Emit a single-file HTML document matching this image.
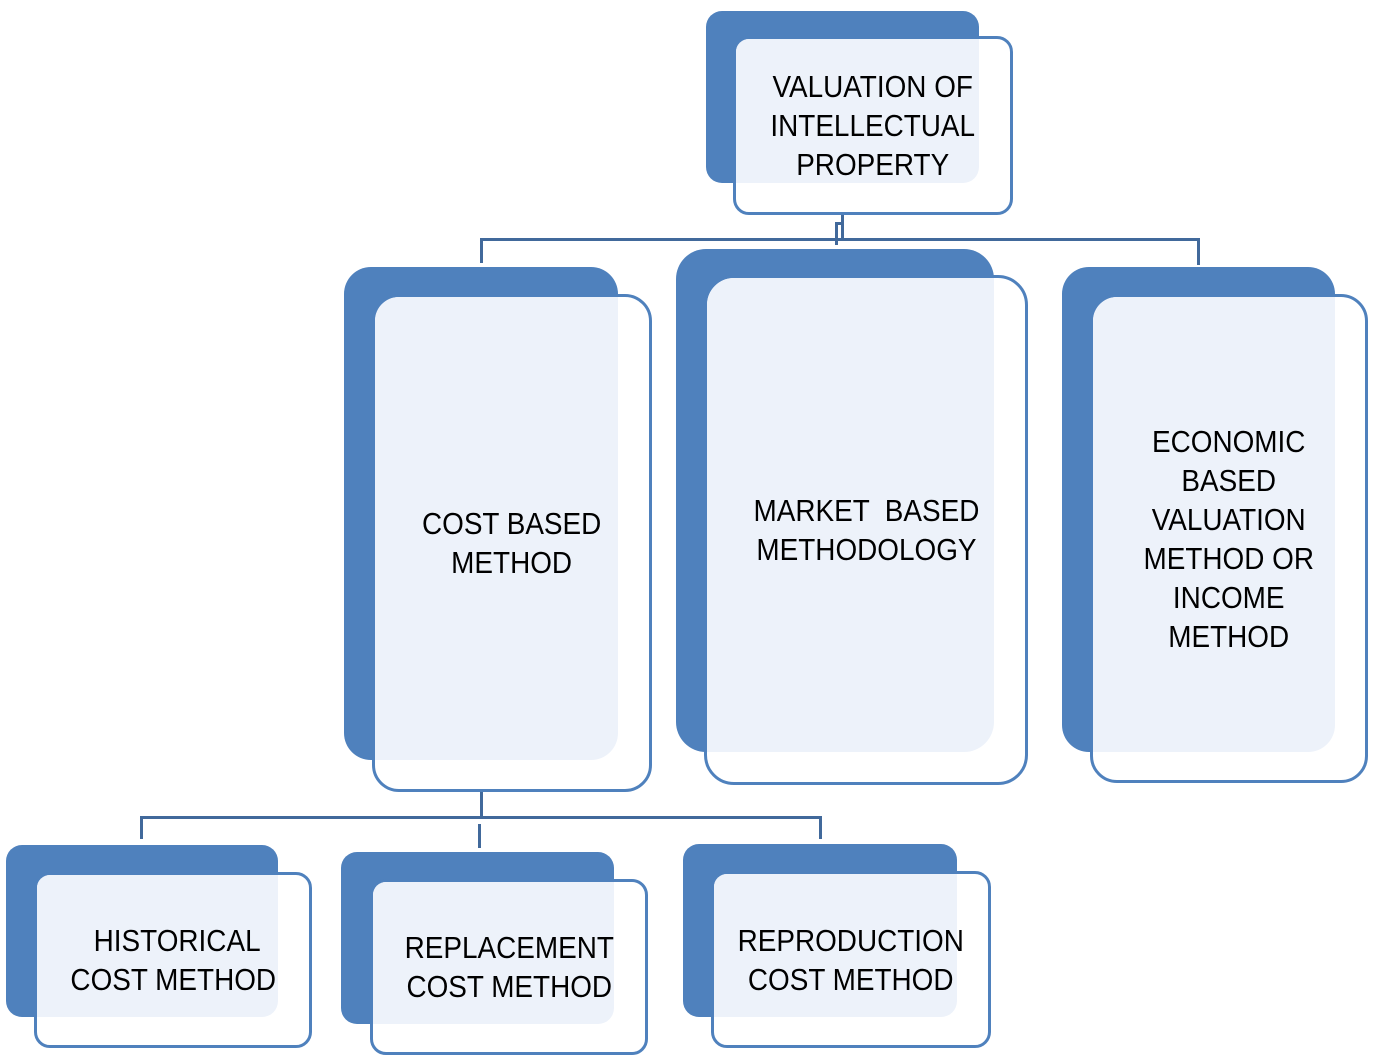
<!DOCTYPE html>
<html>
<head>
<meta charset="utf-8">
<style>
  html, body { margin:0; padding:0; background:#ffffff; }
  body { width:1375px; height:1059px; position:relative; overflow:hidden;
         font-family:"Liberation Sans", "DejaVu Sans", sans-serif; }
  .back { position:absolute; background:#4F81BD; }
  .front { position:absolute; background:#ffffff; border:3px solid #4F81BD; box-sizing:border-box; }
  .ov { position:absolute; background:#EDF2FA; }
  .txt { position:absolute; display:flex; align-items:center; justify-content:center;
         text-align:center; font-size:31px; line-height:39px; color:#000; white-space:pre; }
  .txt span { display:inline-block; transform:scaleX(0.9); transform-origin:50% 50%; }
  .ln { position:absolute; background:#41699B; }
  .fl { position:absolute; background:#E3E8F1; }
</style>
</head>
<body>

<!-- connectors top -->
<div class="fl" style="left:841px;top:187px;width:3px;height:28px;"></div>
<div class="ln" style="left:841px;top:215px;width:3px;height:26px;"></div>
<div class="ln" style="left:835px;top:222px;width:3px;height:23px;"></div>
<div class="ln" style="left:835px;top:222px;width:8px;height:3px;"></div>
<div class="ln" style="left:480px;top:238px;width:720px;height:3px;"></div>
<div class="ln" style="left:480px;top:238px;width:3px;height:25px;"></div>
<div class="ln" style="left:1197px;top:238px;width:3px;height:27px;"></div>

<!-- connectors bottom -->
<div class="fl" style="left:480px;top:765px;width:3px;height:27px;"></div>
<div class="ln" style="left:480px;top:792px;width:3px;height:26px;"></div>
<div class="ln" style="left:478px;top:824px;width:3px;height:24px;"></div>
<div class="ln" style="left:140px;top:816px;width:682px;height:3px;"></div>
<div class="ln" style="left:140px;top:816px;width:3px;height:23px;"></div>
<div class="ln" style="left:819px;top:816px;width:3px;height:23px;"></div>

<!-- Top node -->
<div class="back" style="left:706px;top:11px;width:273px;height:172px;border-radius:16px;"></div>
<div class="front" style="left:733px;top:36px;width:280px;height:179px;border-radius:16px;"></div>
<div class="ov" style="left:736px;top:39px;width:243px;height:144px;border-top-left-radius:13px;border-bottom-right-radius:16px;"></div>
<div class="txt" style="left:733px;top:36px;width:280px;height:179px;"><span>VALUATION OF
INTELLECTUAL
PROPERTY</span></div>

<!-- Cost based -->
<div class="back" style="left:344px;top:267px;width:274px;height:493px;border-radius:27px;"></div>
<div class="front" style="left:372px;top:294px;width:280px;height:498px;border-radius:27px;"></div>
<div class="ov" style="left:375px;top:297px;width:243px;height:463px;border-top-left-radius:24px;border-bottom-right-radius:27px;"></div>
<div class="txt" style="left:372px;top:294px;width:280px;height:498px;"><span>COST BASED
METHOD</span></div>

<!-- Market based -->
<div class="back" style="left:676px;top:249px;width:318px;height:503px;border-radius:30px;"></div>
<div class="front" style="left:704px;top:275px;width:324px;height:510px;border-radius:30px;"></div>
<div class="ov" style="left:707px;top:278px;width:287px;height:474px;border-top-left-radius:27px;border-bottom-right-radius:30px;"></div>
<div class="txt" style="left:704px;top:275px;width:324px;height:510px;"><span>MARKET  BASED
METHODOLOGY</span></div>

<!-- Economic -->
<div class="back" style="left:1062px;top:267px;width:273px;height:485px;border-radius:27px;"></div>
<div class="front" style="left:1090px;top:294px;width:278px;height:489px;border-radius:27px;"></div>
<div class="ov" style="left:1093px;top:297px;width:242px;height:455px;border-top-left-radius:24px;border-bottom-right-radius:27px;"></div>
<div class="txt" style="left:1090px;top:294px;width:278px;height:489px;"><span>ECONOMIC
BASED
VALUATION
METHOD OR
INCOME
METHOD</span></div>

<!-- Historical -->
<div class="back" style="left:6px;top:845px;width:272px;height:172px;border-radius:16px;"></div>
<div class="front" style="left:34px;top:872px;width:278px;height:176px;border-radius:16px;"></div>
<div class="ov" style="left:37px;top:875px;width:241px;height:142px;border-top-left-radius:13px;border-bottom-right-radius:16px;"></div>
<div class="txt" style="left:34px;top:872px;width:278px;height:176px;"><span> HISTORICAL
COST METHOD</span></div>

<!-- Replacement -->
<div class="back" style="left:341px;top:852px;width:273px;height:172px;border-radius:16px;"></div>
<div class="front" style="left:370px;top:879px;width:278px;height:176px;border-radius:16px;"></div>
<div class="ov" style="left:373px;top:882px;width:241px;height:142px;border-top-left-radius:13px;border-bottom-right-radius:16px;"></div>
<div class="txt" style="left:370px;top:879px;width:278px;height:176px;"><span>REPLACEMENT
COST METHOD</span></div>

<!-- Reproduction -->
<div class="back" style="left:683px;top:844px;width:274px;height:173px;border-radius:16px;"></div>
<div class="front" style="left:711px;top:871px;width:280px;height:177px;border-radius:16px;"></div>
<div class="ov" style="left:714px;top:874px;width:243px;height:143px;border-top-left-radius:13px;border-bottom-right-radius:16px;"></div>
<div class="txt" style="left:711px;top:871px;width:280px;height:177px;"><span>REPRODUCTION
COST METHOD</span></div>

</body>
</html>
